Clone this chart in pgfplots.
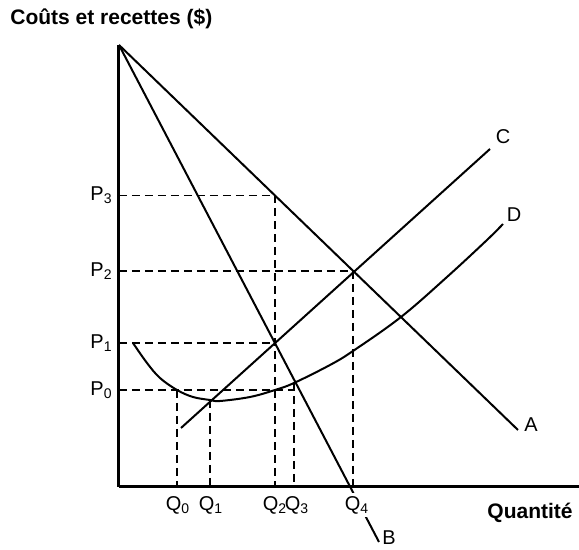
\documentclass[border=0pt]{standalone}
\usepackage{fontspec}
\setmainfont{Liberation Sans}
\usepackage{pgfplots}
\pgfplotsset{compat=1.18}

\begin{document}
\begin{tikzpicture}[
  curve/.style={black, solid, mark=none, line width=1pt},
  guide/.style={black, mark=none, line width=0.9pt, dash pattern=on 4pt off 2.5pt},
  lbl/.style={font=\fontsize{10}{12}\selectfont, inner sep=0pt},
]
\begin{axis}[
  scale only axis,
  width=230pt, height=221pt,
  xmin=0, xmax=460, ymin=0, ymax=442,
  axis lines=left,
  axis line style={line width=1.5pt, -},
  xtick=\empty, ytick=\empty,
  clip=false,
]
% dashed guides
\addplot[guide] coordinates {(0,291.5) (156,291.5) (156,0)};
\addplot[guide] coordinates {(0,216) (234,216) (234,0)};
\addplot[guide] coordinates {(0,144) (156,144)};
\addplot[guide] coordinates {(0,97) (175,97)};
\addplot[guide] coordinates {(58,97) (58,0)};
\addplot[guide] coordinates {(91,87) (91,0)};
\addplot[guide] coordinates {(175,104) (175,0)};

% A
\addplot[curve] coordinates {(0,442) (399,57)};
% B
\addplot[curve] coordinates {(0,442) (260,-55)};
% C
\addplot[curve] coordinates {(62,59) (371,338)};
% D
\addplot[curve, smooth, tension=0.6] coordinates {
  (14,144) (28,124) (41,109) (58,97) (74,90) (91,87) (101,86)
  (131,90) (156,97) (175,104) (211,122) (234,136) (282,170)
  (328,210) (368,247) (384,263)
};

% axis labels
\node[lbl, anchor=east] at (axis cs:-6,291.5) {P\textsubscript{3}};
\node[lbl, anchor=east] at (axis cs:-6,216) {P\textsubscript{2}};
\node[lbl, anchor=east] at (axis cs:-6,144) {P\textsubscript{1}};
\node[lbl, anchor=east] at (axis cs:-6,97) {P\textsubscript{0}};
\node[lbl] at (axis cs:59,-18) {Q\textsubscript{0}};
\node[lbl] at (axis cs:92,-18) {Q\textsubscript{1}};
\node[lbl] at (axis cs:156,-18) {Q\textsubscript{2}};
\node[lbl] at (axis cs:178,-18) {Q\textsubscript{3}};
\node[lbl, fill=white, inner sep=1.5pt] at (axis cs:238,-18) {Q\textsubscript{4}};

% curve labels
\node[lbl] at (axis cs:412,62) {A};
\node[lbl] at (axis cs:270,-51) {B};
\node[lbl] at (axis cs:384,350) {C};
\node[lbl] at (axis cs:395,272) {D};

\node[font=\bfseries\fontsize{10.5}{12}\selectfont, inner sep=0pt, anchor=east]
  at (axis cs:454,-26) {Quantité};
\node[font=\bfseries\fontsize{10.5}{12}\selectfont, inner sep=0pt, anchor=west]
  at (axis cs:-109,468) {Coûts et recettes (\$)};

\coordinate (bl) at (axis cs:-119,-63);
\coordinate (tr) at (axis cs:460,487);
\end{axis}
\pgfresetboundingbox
\path[use as bounding box] (bl) rectangle (tr);
\end{tikzpicture}
\end{document}
